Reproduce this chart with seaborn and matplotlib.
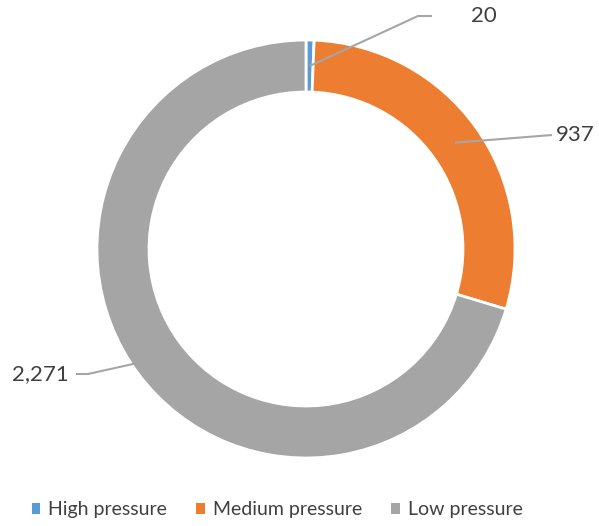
import matplotlib
matplotlib.use("Agg")
import numpy as np
import seaborn as sns
import matplotlib.pyplot as plt

# data
categories = ["High pressure", "Medium pressure", "Low pressure"]
values = [20, 937, 2271]
value_labels = ["20", "937", "2,271"]
colors = ["#5B9BD5", "#ED7D31", "#A5A5A5"]

sns.set_theme(style="white")
plt.rcParams["font.family"] = ["Lato", "DejaVu Sans"]
text_color = "#404040"

W, H = 599, 526
fig = plt.figure(figsize=(W / 100, H / 100), dpi=100)
ax = fig.add_axes([0, 0, 1, 1])

center = (306, H - 249)
radius = 209
ring = 52

wedges, _ = ax.pie(values, colors=colors, startangle=90, counterclock=False,
                   center=center, radius=radius,
                   wedgeprops=dict(width=ring, edgecolor="white", linewidth=2))
ax.set_xlim(0, W)
ax.set_ylim(0, H)
ax.set_aspect("equal")
ax.axis("off")

# label layout (pixel coords, y from top): elbow point, line end, text anchor
layout = [
    dict(elbow=(418, 16), end=(432, 16), text=(471, 16), ha="left"),
    dict(elbow=None, end=(552, 135), text=(556, 135), ha="left"),
    dict(elbow=(88, 374), end=(76, 374), text=(69, 374), ha="right"),
]

for w, lab, lay in zip(wedges, value_labels, layout):
    ang = np.deg2rad((w.theta1 + w.theta2) / 2)
    r_mid = radius - ring / 2
    ax_x = center[0] + r_mid * np.cos(ang)
    ax_y = center[1] + r_mid * np.sin(ang)
    pts = [(ax_x, ax_y)]
    if lay["elbow"] is not None:
        pts.append((lay["elbow"][0], H - lay["elbow"][1]))
    pts.append((lay["end"][0], H - lay["end"][1]))
    xs, ys = zip(*pts)
    ax.plot(xs, ys, color="#A6A6A6", lw=1.5, solid_capstyle="butt")
    ax.text(lay["text"][0], H - lay["text"][1], lab, ha=lay["ha"], va="center",
            fontsize=16, color=text_color)

leg = fig.legend(wedges, categories, loc="center", bbox_to_anchor=(277 / W, 1 - 510 / H),
                 ncol=3, frameon=False, fontsize=14, handlelength=0.45, handleheight=0.45,
                 handletextpad=0.4, columnspacing=1.5, labelcolor=text_color)
for h in leg.legend_handles:
    h.set_edgecolor("none")

fig.savefig("out.png", dpi=100, facecolor="white")
